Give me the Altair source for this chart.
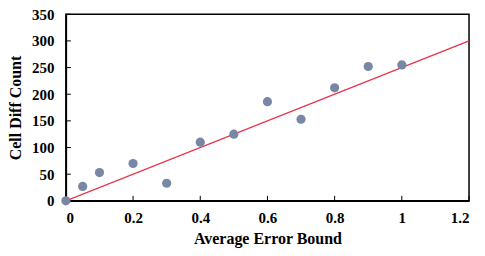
import altair as alt
import pandas as pd

error_bound = [0, 0.05, 0.1, 0.2, 0.3, 0.4, 0.5, 0.6, 0.7, 0.8, 0.9, 1.0]
cell_diff = [0, 27, 53, 70, 33, 110, 125, 186, 153, 212, 252, 255]
fit_x = [0, 1.2]
fit_y = [0, 300]
x_ticks = [0, 0.2, 0.4, 0.6, 0.8, 1.0, 1.2]
y_ticks = [0, 50, 100, 150, 200, 250, 300, 350]

W, H = 404, 187
FONT = "Times New Roman, Liberation Serif, serif"

pts = pd.DataFrame({"x": error_bound, "y": cell_diff})
line = pd.DataFrame({"x": fit_x, "y": fit_y})
xt = pd.DataFrame({"x": x_ticks})
yt = pd.DataFrame({"y": y_ticks})

xs = alt.Scale(domain=[0, 1.2], nice=False, zero=False)
ys = alt.Scale(domain=[0, 350], nice=False)

xaxis = alt.Axis(values=x_ticks, title="Average Error Bound", format="~g", ticks=False,
                 grid=False, labelPadding=10, titlePadding=5, labelOverlap=False)
yaxis = alt.Axis(values=y_ticks, title="Cell Diff Count", ticks=False, grid=False,
                 labelPadding=12, titlePadding=8, labelOverlap=False)

X = alt.X("x:Q", scale=xs, axis=xaxis)
Y = alt.Y("y:Q", scale=ys, axis=yaxis)

base_line = alt.Chart(line).mark_line(color="#e8334a", strokeWidth=1.3, clip=True).encode(
    x=X, y=Y,
)
points = alt.Chart(pts).mark_circle(size=85, color="#7887a3", opacity=1).encode(
    x=X, y=Y,
)
xticks = alt.Chart(xt).mark_rule(color="black", strokeWidth=1).encode(
    x=X, y=alt.value(H), y2=alt.value(H - 5)
)
yticks = alt.Chart(yt).mark_rule(color="black", strokeWidth=1).encode(
    y=Y, x=alt.value(0), x2=alt.value(5)
)

chart = alt.layer(base_line, xticks, yticks, points).properties(
    width=W, height=H,
    autosize=alt.AutoSizeParams(type="none"),
    padding={"left": 58, "top": 6, "right": 8, "bottom": 47},
).configure_view(stroke="black", strokeWidth=1.5).configure_axis(
    domainColor="black", domainWidth=1.5,
    labelFont=FONT, labelFontSize=15, labelFontWeight="bold", labelColor="black",
    titleFont=FONT, titleFontSize=16, titleFontWeight="bold", titleColor="black",
)

chart.save("out.html", embed_options={"renderer": "svg", "actions": False})
